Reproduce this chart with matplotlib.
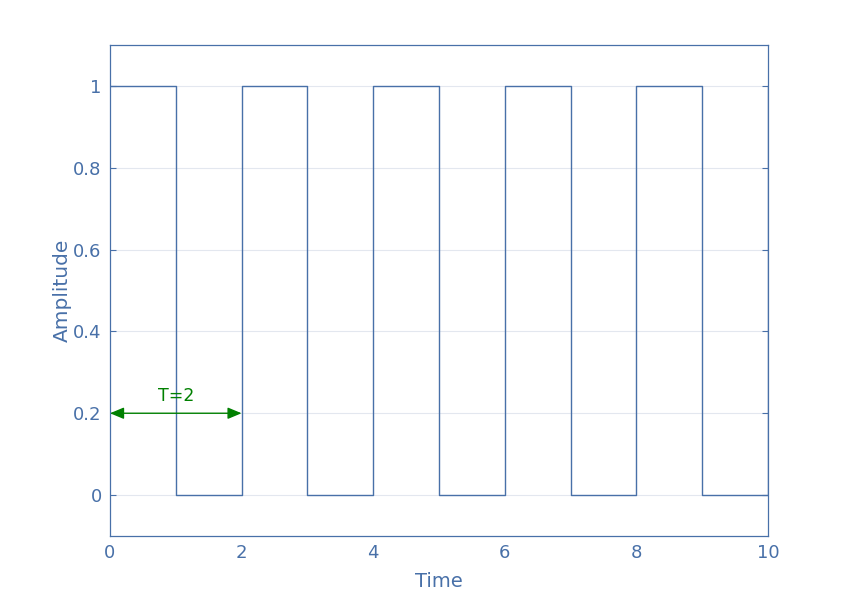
import matplotlib
matplotlib.use("Agg")
import matplotlib.pyplot as plt

time = [0, 1, 2, 3, 4, 5, 6, 7, 8, 9, 10]
amplitude = [1, 0, 1, 0, 1, 0, 1, 0, 1, 0, 1]
period_label = "T=2"
period_start, period_end, period_y = 0, 2, 0.2
xticks = [0, 2, 4, 6, 8, 10]
yticks = [0, 0.2, 0.4, 0.6, 0.8, 1]

blue = "#4870a8"
fig = plt.figure(figsize=(8.5, 6.04), dpi=100)
ax = fig.add_axes([0.1294, 0.1126, 0.7741, 0.8129])
ax.plot(time, amplitude, drawstyle="steps-post", color=blue, lw=1.0)
ax.set_xlim(0, 10)
ax.set_ylim(-0.1, 1.1)
ax.set_xticks(xticks)
ax.set_xticklabels([str(v) for v in xticks])
ax.set_yticks(yticks)
ax.set_yticklabels([("%g" % v) for v in yticks])
ax.yaxis.grid(True, color="#e3e7ef", lw=0.8)
ax.set_axisbelow(True)
for s in ax.spines.values():
    s.set_color(blue)
    s.set_linewidth(0.9)
ax.tick_params(direction="in", colors=blue, labelsize=13, length=4, right=True, top=False, labelcolor=blue)
ax.tick_params(axis="x", length=0, pad=6)
ax.tick_params(axis="y", pad=6)
ax.set_xlabel("Time", color=blue, fontsize=14, labelpad=7)
ax.set_ylabel("Amplitude", color=blue, fontsize=14.5, labelpad=1)
ax.annotate("", xy=(period_end, period_y), xytext=(period_start, period_y),
            arrowprops=dict(arrowstyle="<|-|>,head_length=0.6,head_width=0.25", color="green", lw=1.0,
                            mutation_scale=14, shrinkA=0, shrinkB=0))
ax.text((period_start + period_end) / 2, period_y + 0.02, period_label, color="green", fontsize=12.5,
        ha="center", va="bottom")
fig.savefig("out.png", dpi=100)
